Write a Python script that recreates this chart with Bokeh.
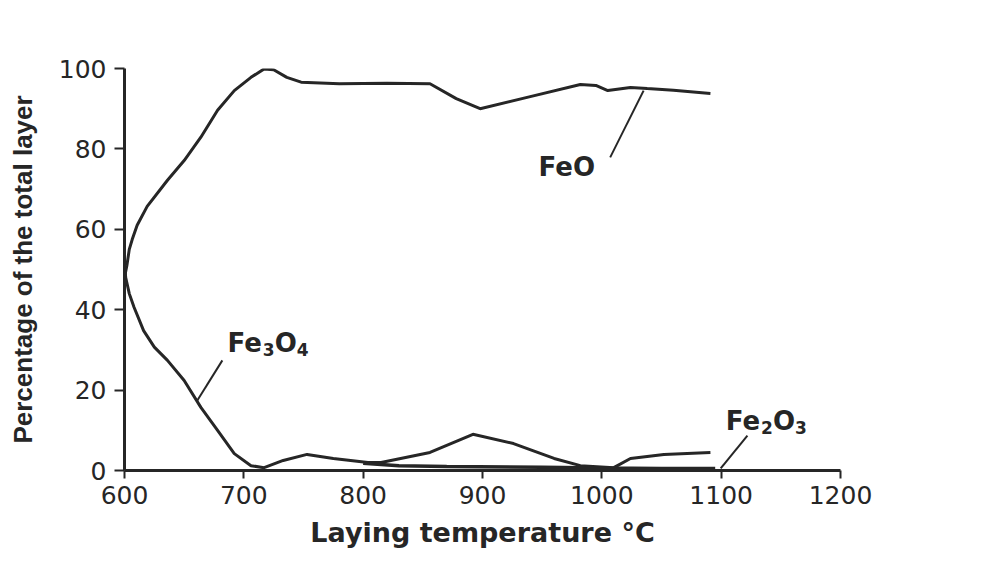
from bokeh.plotting import figure
from bokeh.models import Range1d, FixedTicker, Label
from bokeh.embed import file_html
from bokeh.resources import INLINE

# ---- data ----
feo_x = [600, 602, 604, 606.5, 610.6, 619, 636, 650, 664, 678, 692, 706, 717, 725, 736, 748, 780, 820, 856, 878, 898, 940, 982, 995, 1005, 1024, 1038, 1060, 1091]
feo_y = [48, 51, 55, 57.5, 61, 65.7, 72.2, 77.1, 82.9, 89.6, 94.5, 97.8, 99.9, 99.7, 97.8, 96.6, 96.2, 96.3, 96.2, 92.5, 90, 93, 96, 95.8, 94.5, 95.3, 95, 94.6, 93.8]

fe3o4_x = [600, 601, 604, 608, 616, 625, 636, 650, 664, 678, 692, 706, 717, 733, 753, 775, 804, 815, 856, 892, 926, 960, 982, 1010, 1024, 1052, 1091]
fe3o4_y = [52, 48, 44, 40.6, 34.8, 30.7, 27.4, 22.4, 15.7, 10, 4.2, 1.2, 0.7, 2.5, 4, 3, 2, 2, 4.5, 9, 6.7, 3, 1.2, 0.7, 3, 4, 4.5]

fe2o3_x = [800, 830, 870, 950, 1000, 1050, 1095]
fe2o3_y = [1.8, 1.2, 1.0, 0.8, 0.6, 0.5, 0.5]

x_ticks = [600, 700, 800, 900, 1000, 1100, 1200]
y_ticks = [0, 20, 40, 60, 80, 100]

# series labels: pieces (text, is_subscript)
feo_label = [("FeO", False)]
fe3o4_label = [("Fe", False), ("3", True), ("O", False), ("4", True)]
fe2o3_label = [("Fe", False), ("2", True), ("O", False), ("3", True)]

WIDE = "DejaVu Sans"
NARROW = "Liberation Sans"
INK = "#262626"

p = figure(width=982, height=567, output_backend="svg", toolbar_location=None,
           x_range=Range1d(600, 1200), y_range=Range1d(0, 100),
           min_border_left=124, min_border_right=142, min_border_top=68, min_border_bottom=97)
p.background_fill_color = "white"
p.border_fill_color = "white"
p.outline_line_color = None
p.grid.visible = False

for ax in (p.xaxis[0], p.yaxis[0]):
    ax.axis_line_width = 3
    ax.axis_line_color = INK
    ax.major_tick_line_width = 2
    ax.major_tick_line_color = INK
    ax.major_tick_in = 0
    ax.minor_tick_line_color = None
    ax.major_label_text_font = WIDE
    ax.major_label_text_font_size = "25px"
    ax.major_label_text_color = INK
    ax.axis_label_text_font_style = "bold"
    ax.axis_label_text_color = INK

p.xaxis.major_tick_out = 8
p.yaxis.major_tick_out = 10
p.xaxis.major_label_standoff = 7
p.yaxis.major_label_standoff = 8
p.xaxis.ticker = FixedTicker(ticks=x_ticks)
p.yaxis.ticker = FixedTicker(ticks=y_ticks)
p.xaxis.axis_label = "Laying temperature °C"
p.yaxis.axis_label = "Percentage of the total layer"
p.xaxis.axis_label_text_font = WIDE
p.xaxis.axis_label_text_font_size = "27px"
p.yaxis.axis_label_text_font = NARROW
p.yaxis.axis_label_text_font_size = "26px"
p.xaxis.axis_label_standoff = 10
p.yaxis.axis_label_standoff = 18

p.line(feo_x, feo_y, line_width=3, line_color=INK)
p.line(fe3o4_x, fe3o4_y, line_width=3, line_color=INK)
p.line(fe2o3_x, fe2o3_y, line_width=3.5, line_color=INK)

# leader lines
p.segment(x0=[1007, 682, 1122], y0=[77.9, 27.4, 8.7], x1=[1035, 661, 1099.6], y1=[94.5, 17.4, 0.5],
          line_width=2, line_color=INK)

# advance widths (em) of DejaVu Sans Bold glyphs used
ADV = {"F": 0.683, "e": 0.678, "O": 0.850, "2": 0.696, "3": 0.696, "4": 0.696}
MAIN, SUB = 26, 17


def chem_label(pieces, x, y):
    off = 0.0
    for txt, sub in pieces:
        size = SUB if sub else MAIN
        p.add_layout(Label(x=x, y=y, x_offset=off, y_offset=-6 if sub else 0, text=txt,
                           text_font=WIDE, text_font_style="bold",
                           text_font_size=f"{size}px", text_color=INK,
                           text_align="left", text_baseline="alphabetic"))
        off += sum(ADV[c] for c in txt) * size


chem_label(feo_label, 947, 75.6)
chem_label(fe3o4_label, 686.3, 31.6)
chem_label(fe2o3_label, 1103.8, 12.2)

open("out.html", "w").write(file_html(p, INLINE))
